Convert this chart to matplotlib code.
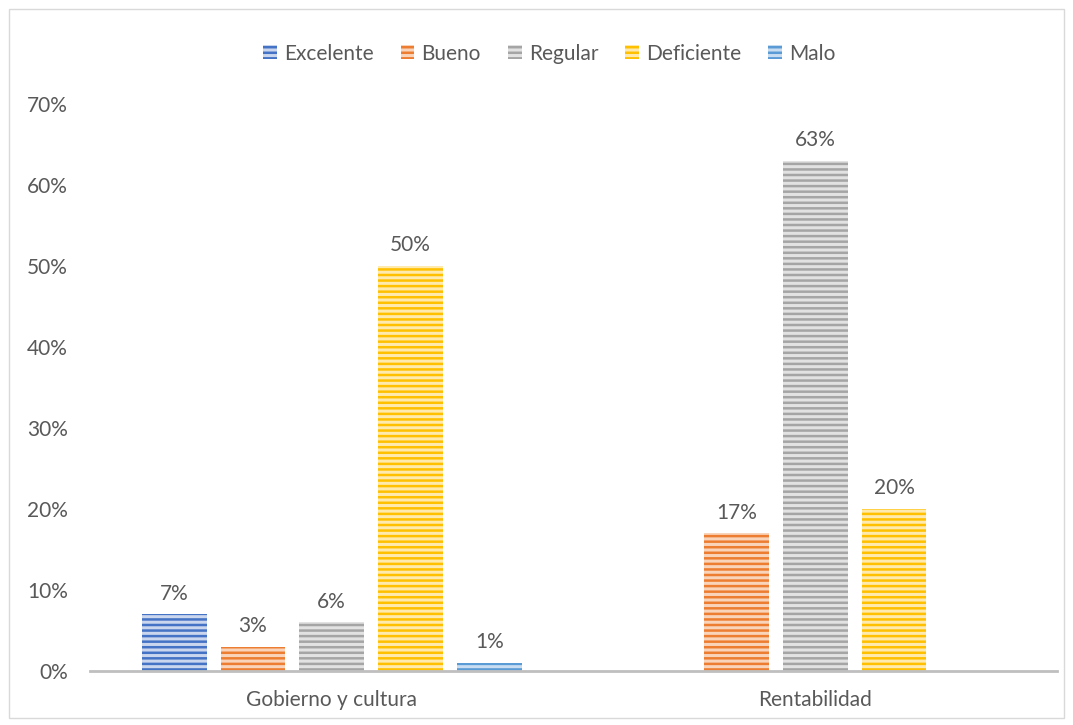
import matplotlib.pyplot as plt
import numpy as np
from matplotlib.patches import Rectangle

categories = ["Gobierno y cultura", "Rentabilidad"]
series = ["Excelente", "Bueno", "Regular", "Deficiente", "Malo"]
excelente = [0.07, np.nan]
bueno = [0.03, 0.17]
regular = [0.06, 0.63]
deficiente = [0.50, 0.20]
malo = [0.01, np.nan]
yticks = [0, 0.1, 0.2, 0.3, 0.4, 0.5, 0.6, 0.7]

values = [excelente, bueno, regular, deficiente, malo]
colors = ["#4472C4", "#ED7D31", "#A5A5A5", "#FFC000", "#5B9BD5"]
light = ["#C9D6EE", "#F9D4BA", "#E2E2E2", "#FFEAAD", "#C8DDF1"]

plt.rcParams['font.family'] = ['Lato', 'DejaVu Sans']
plt.rcParams['hatch.linewidth'] = 1.8
txt = "#595959"
fs = 15

fig = plt.figure(figsize=(10.73, 7.25), dpi=100)
ax = fig.add_axes([0.0839, 0.0745, 0.9011, 0.7821])

x = np.arange(len(categories))
step = 0.163
width = 0.134
for i, (name, vals) in enumerate(zip(series, values)):
    pos = x + (i - 2) * step
    bars = ax.bar(pos, vals, width, facecolor=light[i], edgecolor=colors[i],
                  hatch="---", linewidth=0, label=name)
    for b, v in zip(bars, vals):
        if not np.isnan(v):
            ax.text(b.get_x() + b.get_width() / 2, v + 0.013, f"{v:.0%}",
                    ha="center", va="bottom", fontsize=fs, color=txt)

ax.set_xlim(-0.5, 1.5)
ax.set_ylim(0, 0.7)
ax.set_yticks(yticks)
ax.set_yticklabels([f"{t:.0%}" for t in yticks], fontsize=fs, color=txt)
ax.set_xticks(x)
ax.set_xticklabels(categories, fontsize=fs, color=txt)
ax.tick_params(length=0)
ax.tick_params(axis="x", pad=14)
ax.tick_params(axis="y", pad=16)
for s in ["top", "right", "left"]:
    ax.spines[s].set_visible(False)
ax.spines["bottom"].set_color("#BFBFBF")
ax.spines["bottom"].set_linewidth(2)

leg = fig.legend(loc="center", bbox_to_anchor=(0.512, 0.926), ncol=5,
                 frameon=False, fontsize=fs, handlelength=0.65, handleheight=0.65,
                 handletextpad=0.35, columnspacing=1.3, labelcolor=txt)

fig.patches.append(Rectangle((0.008, 0.01), 0.984, 0.978, transform=fig.transFigure,
                             fill=False, edgecolor="#D9D9D9", linewidth=1))

fig.savefig("out.png", dpi=100)
